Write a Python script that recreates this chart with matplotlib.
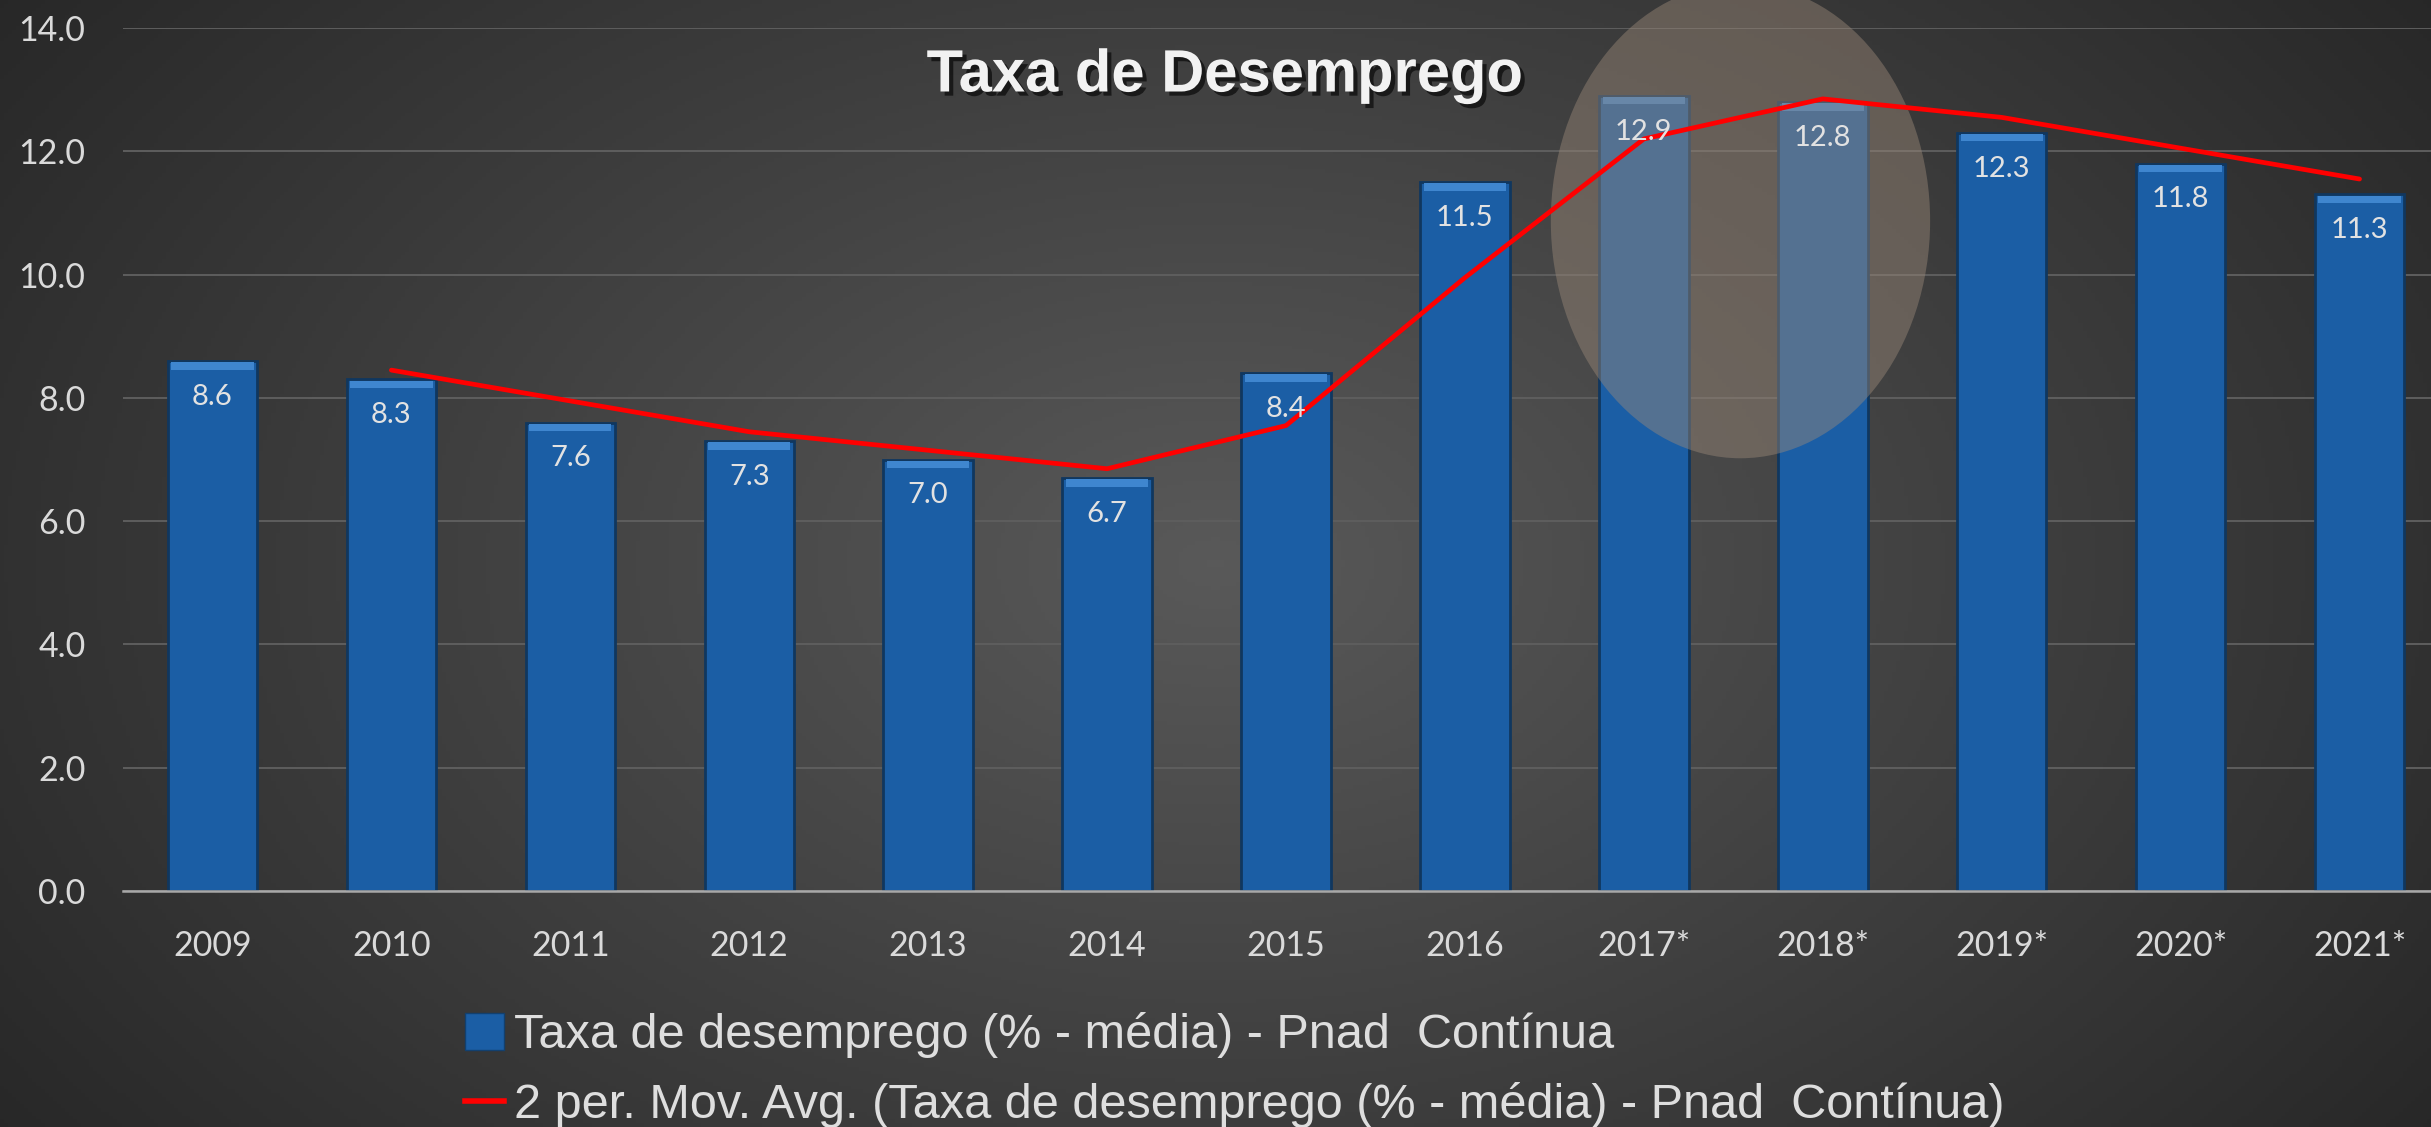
import numpy as np
import matplotlib
matplotlib.use("Agg")
import matplotlib.pyplot as plt
from matplotlib.patches import Ellipse, Patch
from matplotlib.lines import Line2D
import matplotlib.patheffects as pe

# data
years = ["2009", "2010", "2011", "2012", "2013", "2014", "2015", "2016",
         "2017*", "2018*", "2019*", "2020*", "2021*"]
rate = [8.6, 8.3, 7.6, 7.3, 7.0, 6.7, 8.4, 11.5, 12.9, 12.8, 12.3, 11.8, 11.3]
# 2 period moving average, starts at 2010
mov_avg = [8.45, 7.95, 7.45, 7.15, 6.85, 7.55, 9.95, 12.2, 12.85, 12.55, 12.05, 11.55]

title = "Taxa de Desemprego"
bar_label = "Taxa de desemprego (% - média) - Pnad  Contínua"
line_label = "2 per. Mov. Avg. (Taxa de desemprego (% - média) - Pnad  Contínua)"

W, H, DPI = 2431, 1127, 100
fig = plt.figure(figsize=(W / DPI, H / DPI), dpi=DPI)

# background radial gradient, light grey centre to dark edges
bg = fig.add_axes([0, 0, 1, 1], zorder=-10)
yy, xx = np.mgrid[0:1:300j, 0:1:600j]
r = np.sqrt(((xx - 0.5) / 0.6) ** 2 + ((yy - 0.5) / 0.85) ** 2)
val = 0.35 - 0.19 * np.clip(r, 0, 1.1)
bg.imshow(np.dstack([val, val, val]), aspect="auto",
          extent=[0, 1, 0, 1], origin="lower")
bg.set_axis_off()

ax = fig.add_axes([123 / W, 236 / H, 2326 / W, 863 / H])
ax.patch.set_alpha(0)

x = np.arange(len(years))
ax.bar(x, rate, width=0.5, color="#1b5ea5", edgecolor="#10375f",
       linewidth=2, zorder=2)
# lighter bevel at the top of each bar
ax.bar(x, [0.12] * len(x), bottom=np.array(rate) - 0.14, width=0.46,
       color="#3f86cf", linewidth=0, zorder=2.1)

ax.add_patch(Ellipse((8.54, 10.87), 2.12, 7.7, facecolor="#9b8979",
                     alpha=0.45, edgecolor="none", zorder=3, clip_on=False))

ax.plot(x[1:], mov_avg, color="#ff0000", linewidth=3.4, zorder=4,
        solid_capstyle="round")

for xi, v in zip(x, rate):
    ax.text(xi, v - 0.58, f"{v:.1f}", ha="center", va="center",
            color="#e2e2e2", fontsize=21, family="Lato", zorder=5)

ax.set_xlim(-0.5, len(years) - 0.5)
ax.set_ylim(0, 14)
ax.set_yticks(np.arange(0, 15, 2))
ax.set_yticklabels([f"{t:.1f}" for t in np.arange(0, 15, 2)])
ax.set_xticks(x)
ax.set_xticklabels(years)
ax.tick_params(axis="both", length=0, colors="#dadada", labelsize=24.5)
ax.tick_params(axis="y", pad=27)
ax.tick_params(axis="x", pad=28)
for lab in ax.get_xticklabels() + ax.get_yticklabels():
    lab.set_family("Lato")

ax.grid(axis="y", color="#5e5e5e", linewidth=1.4, zorder=0)
ax.set_axisbelow(True)
for s in ["top", "right", "left"]:
    ax.spines[s].set_visible(False)
ax.spines["bottom"].set_color("#a8a8a8")
ax.spines["bottom"].set_linewidth(1.8)

fig.text(1225 / W, 1 - 76 / H, title, ha="center", va="center",
         color="#f2f2f2", fontsize=43, fontweight="bold",
         family="Liberation Sans",
         path_effects=[pe.withSimplePatchShadow(offset=(3, -3),
                                                shadow_rgbFace="black",
                                                alpha=0.6)])

handles = [Patch(facecolor="#1b5ea5", edgecolor="#12406f"),
           Line2D([0], [0], color="#ff0000", linewidth=4)]
leg = fig.legend(handles, [bar_label, line_label], loc="upper left",
                 bbox_to_anchor=(465 / W, 1 - 1012 / H), frameon=False,
                 handlelength=0.8, handleheight=0.8, handletextpad=0.2,
                 labelspacing=0.5, borderaxespad=0, borderpad=0,
                 prop={"family": "Liberation Sans", "size": 35})
for t in leg.get_texts():
    t.set_color("#dedede")

fig.savefig("out.png", dpi=DPI)
